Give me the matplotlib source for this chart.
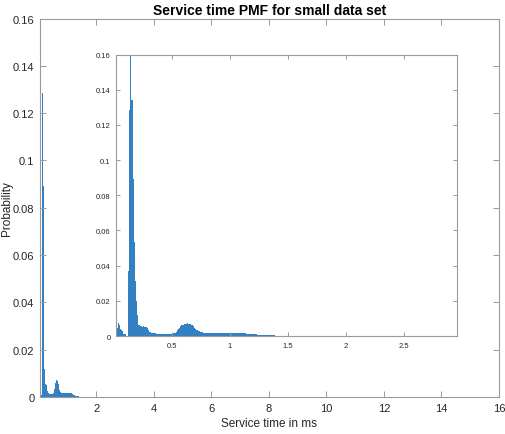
import matplotlib
matplotlib.use("Agg")
import matplotlib.pyplot as plt
import numpy as np

plt.rcParams['font.family'] = ['Liberation Sans', 'DejaVu Sans']

# Histogram (PMF) data: bin width 0.01 ms, first bin edge 0.02 ms
bin_start = 0.02
bin_width = 0.01
pmf = [
    # 0.02 - 0.11
    0.0045, 0.0073, 0.0060, 0.0038, 0.0035, 0.0030, 0.0012, 0.0010, 0.0, 0.0,
    # 0.12 - 0.21
    0.037, 0.1285, 0.165, 0.134, 0.089, 0.0535, 0.031, 0.020, 0.012, 0.0065,
    # 0.22 - 0.31
    0.0058, 0.0055, 0.0052, 0.0055, 0.0052, 0.0050, 0.0045, 0.0035, 0.0025, 0.0020,
    # 0.32 - 0.41
    0.0018, 0.0016, 0.0015, 0.0015, 0.0014, 0.0014, 0.0013, 0.0013, 0.0012, 0.0012,
    # 0.42 - 0.51
    0.0012, 0.0012, 0.0012, 0.0012, 0.0012, 0.0012, 0.0012, 0.0013, 0.0014, 0.0015,
    # 0.52 - 0.61
    0.0018, 0.0025, 0.0032, 0.0040, 0.0048, 0.0055, 0.0060, 0.0065, 0.0068, 0.0070,
    # 0.62 - 0.71
    0.0070, 0.0072, 0.0070, 0.0068, 0.0065, 0.0060, 0.0055, 0.0048, 0.0042, 0.0036,
    # 0.72 - 0.81
    0.0030, 0.0026, 0.0023, 0.0021, 0.0020, 0.0019, 0.0018, 0.0018, 0.0017, 0.0017,
    # 0.82 - 0.91
    0.0016, 0.0016, 0.0016, 0.0015, 0.0015, 0.0015, 0.0015, 0.0015, 0.0015, 0.0015,
    # 0.92 - 1.01
    0.0015, 0.0015, 0.0015, 0.0015, 0.0016, 0.0016, 0.0017, 0.0017, 0.0018, 0.0018,
    # 1.02 - 1.11
    0.0019, 0.0019, 0.0019, 0.0019, 0.0019, 0.0018, 0.0018, 0.0018, 0.0017, 0.0017,
    # 1.12 - 1.21
    0.0016, 0.0015, 0.0014, 0.0013, 0.0012, 0.0011, 0.0011, 0.0010, 0.0010, 0.0009,
    # 1.22 - 1.31
    0.0009, 0.0008, 0.0008, 0.0007, 0.0007, 0.0006, 0.0006, 0.0005, 0.0005, 0.0005,
    # 1.32 - 1.51
    0.0004, 0.0004, 0.0004, 0.0003, 0.0003, 0.0003, 0.0003, 0.0002, 0.0002, 0.0002,
    0.0002, 0.0002, 0.0001, 0.0001, 0.0001, 0.0001, 0.0001, 0.00005, 0.00005, 0.0,
]
edges = bin_start + bin_width * np.arange(len(pmf))

title = "Service time PMF for small data set"
xlabel = "Service time in ms"
ylabel = "Probability"
main_xticks = [2, 4, 6, 8, 10, 12, 14, 16]
main_yticks = [0, 0.02, 0.04, 0.06, 0.08, 0.1, 0.12, 0.14, 0.16]
main_ytick_labels = ["0", "0.02", "0.04", "0.06", "0.08", "0.1", "0.12", "0.14", "0.16"]
inset_xticks = [0.5, 1, 1.5, 2, 2.5]
inset_xtick_labels = ["0.5", "1", "1.5", "2", "2.5"]

bar_color = "#3380c2"
spine_color = "#9a9a9a"
text_color = "#262626"

fig = plt.figure(figsize=(5.06, 4.35), dpi=100)

def style(ax, size, length):
    for s in ax.spines.values():
        s.set_color(spine_color)
        s.set_linewidth(0.8)
    ax.tick_params(direction="in", top=True, right=True, length=length, width=0.7,
                   color=spine_color, labelcolor=text_color, labelsize=size, pad=4)

ax = fig.add_axes([40/506, 1-398/435, (499-40)/506, (398-19.5)/435])
ax.bar(edges, pmf, width=bin_width, align="edge", color=bar_color, linewidth=0)
ax.set_xlim(0.045, 16)
ax.set_ylim(0, 0.16)
ax.set_xticks(main_xticks)
ax.set_yticks(main_yticks)
ax.set_yticklabels(main_ytick_labels)
style(ax, 8, 4)
ax.set_title(title, fontsize=10, fontweight="bold", color="black", pad=3)
ax.set_xlabel(xlabel, fontsize=8.5, color=text_color, labelpad=3)
ax.set_ylabel(ylabel, fontsize=8.5, color=text_color)
ax.yaxis.set_label_coords(-0.058, 0.5)

ins = fig.add_axes([116/506, 1-337/435, (457-116)/506, (337-55.5)/435])
ins.bar(edges, pmf, width=bin_width, align="edge", color=bar_color, linewidth=0)
ins.set_xlim(0.017, 2.957)
ins.set_ylim(0, 0.16)
ins.set_xticks(inset_xticks)
ins.set_xticklabels(inset_xtick_labels)
ins.set_yticks(main_yticks)
ins.set_yticklabels(main_ytick_labels)
style(ins, 5.5, 3)

fig.savefig("out.png", dpi=100)
